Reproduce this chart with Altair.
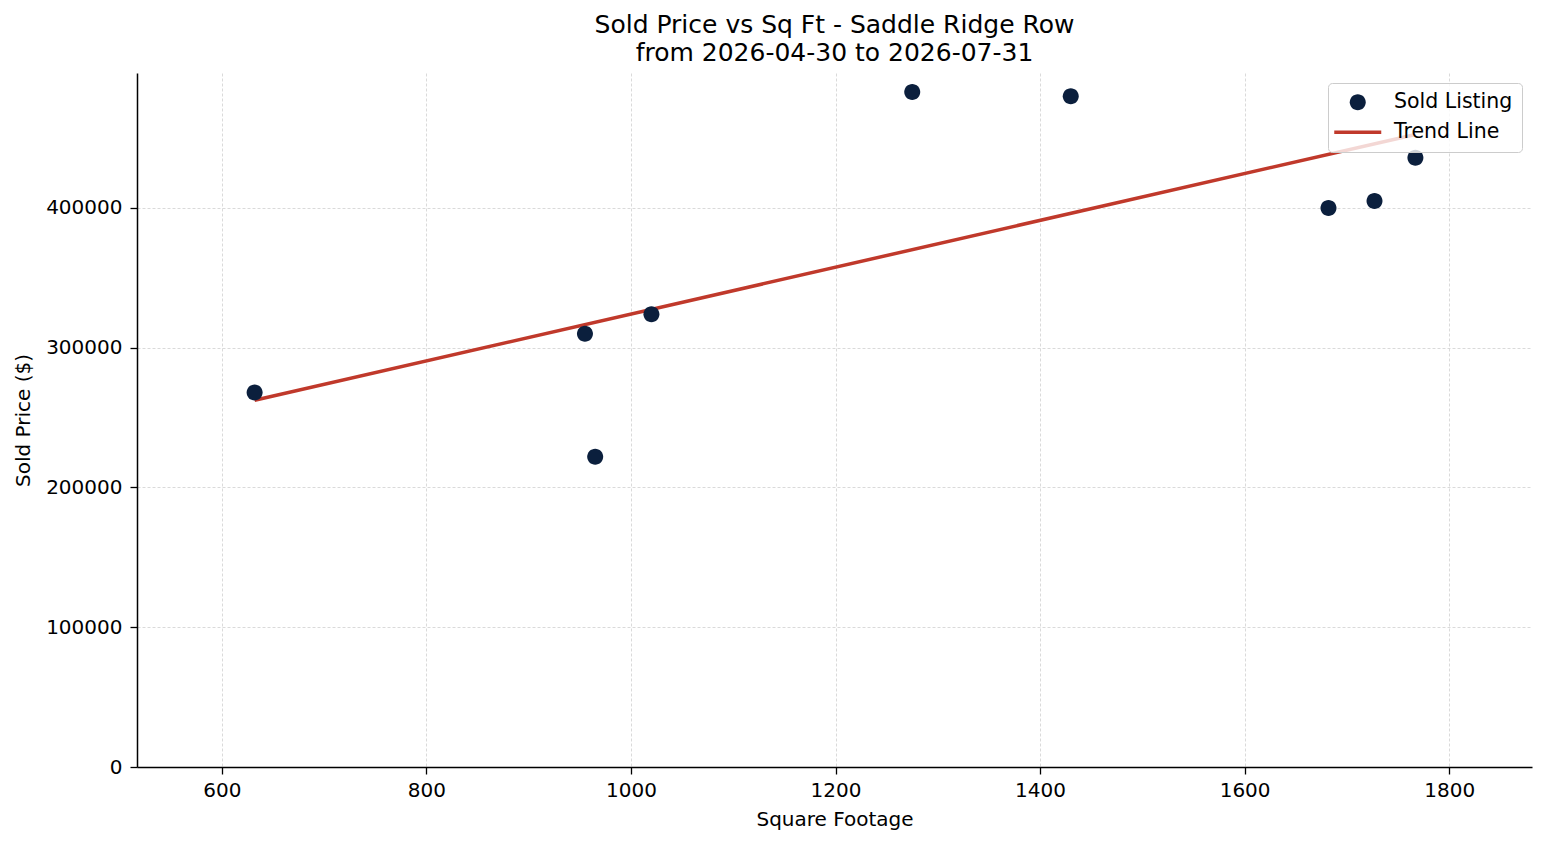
import altair as alt
import pandas as pd

SQFT = [632, 955, 965, 1020, 1275, 1430, 1682, 1727, 1767]
PRICE = [268000, 310000, 222000, 324000, 483000, 480000, 400000, 405000, 436000]

SERIES = ["Sold Listing", "Trend Line"]
SERIES_COLORS = ["#0b1f3d", "#c0392b"]
X_TICKS = [600, 800, 1000, 1200, 1400, 1600, 1800]
Y_TICKS = [0, 100000, 200000, 300000, 400000]

TITLE = ["Sold Price vs Sq Ft - Saddle Ridge Row", "from 2026-04-30 to 2026-07-31"]
FONT = "DejaVu Sans"

# symbol paths (units of sqrt(size)/2): a dot for listings, a flat bar for the trend
DOT = "M-0.8,0A0.8,0.8,0,1,0,0.8,0A0.8,0.8,0,1,0,-0.8,0Z"
BAR = "M-2.35,-0.18L2.35,-0.18L2.35,0.18L-2.35,0.18Z"

df = pd.DataFrame({"sqft": SQFT, "price": PRICE})

x = alt.X(
    "sqft:Q",
    title="Square Footage",
    scale=alt.Scale(domain=[517, 1881], nice=False, zero=False),
    axis=alt.Axis(values=X_TICKS, format="d"),
)
y = alt.Y(
    "price:Q",
    title="Sold Price ($)",
    scale=alt.Scale(domain=[0, 496600], nice=False),
    axis=alt.Axis(values=Y_TICKS, format="d"),
)

legend = alt.Legend(
    title=None,
    orient="top-right",
    offset=10,
    padding=9,
    fillColor="rgba(255,255,255,0.8)",
    strokeColor="#cccccc",
    cornerRadius=4,
    labelFont=FONT,
    labelFontSize=20.5,
    labelColor="black",
    symbolSize=400,
    symbolOffset=10.5,
    labelOffset=26,
    rowPadding=9,
    symbolStrokeWidth=0,
)
color = alt.Color("series:N", scale=alt.Scale(domain=SERIES, range=SERIES_COLORS), legend=legend)
shape = alt.Shape("series:N", scale=alt.Scale(domain=SERIES, range=[DOT, BAR]), legend=legend)

base = alt.Chart(df)

trend = (
    base.transform_regression("sqft", "price")
    .transform_calculate(series="'Trend Line'")
    .mark_line(strokeWidth=3.5)
    .encode(x=x, y=y, color=color)
)

points = (
    base.transform_calculate(series="'Sold Listing'")
    .mark_point(filled=True, opacity=1, size=400)
    .encode(x=x, y=y, color=color, shape=shape)
)

chart = (
    alt.layer(trend, points)
    .properties(
        width=1395,
        height=694,
        title=alt.Title(
            TITLE,
            font=FONT,
            fontSize=25,
            fontWeight="normal",
            color="black",
            anchor="middle",
            offset=7,
            lineHeight=28,
        ),
    )
    .configure_view(stroke=None)
    .configure_axis(
        labelFont=FONT,
        titleFont=FONT,
        labelFontSize=20,
        titleFontSize=20,
        titleFontWeight="normal",
        labelColor="black",
        titleColor="black",
        domainColor="black",
        domainWidth=1.5,
        tickColor="black",
        tickWidth=1.3,
        tickSize=7,
        gridColor="#d0d0d0",
        gridDash=[3, 2],
        gridWidth=0.8,
    )
    .configure_axisX(labelPadding=6, titlePadding=9)
    .configure_axisY(labelPadding=8, titlePadding=12)
)

chart.save("out.html", embed_options={"renderer": "svg", "actions": False})
